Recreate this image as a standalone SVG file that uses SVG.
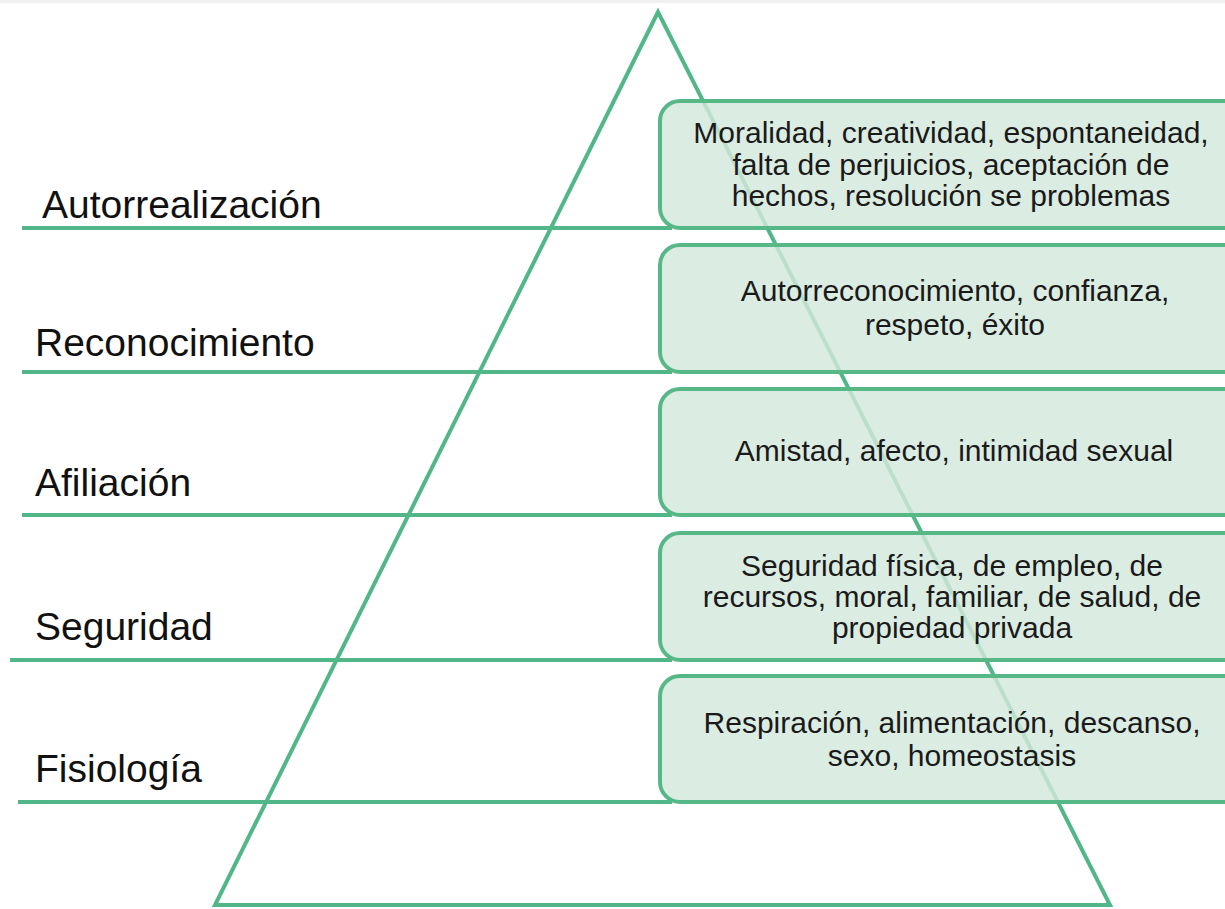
<svg xmlns="http://www.w3.org/2000/svg" width="1225" height="909" viewBox="0 0 1225 909">
<style>
.ln{stroke:#52b788;stroke-width:4;fill:none}
.bx{fill:#d3e8dc;fill-opacity:0.82;stroke:#56b886;stroke-width:4}
.lb{font-family:"Liberation Sans",Arial,sans-serif;font-size:39px;fill:#111}
.bt{font-family:"Liberation Sans",Arial,sans-serif;font-size:30px;fill:#1a1a1a;text-anchor:middle}
</style>
<rect width="1225" height="909" fill="#ffffff"/>
<rect width="1225" height="3" fill="#f0f0f0"/>
<g id="connectors">
<polygon class="ln" points="658,12 215,905 1110,905"/>
<line class="ln" x1="22" y1="228" x2="672" y2="228"/>
<line class="ln" x1="22" y1="372" x2="672" y2="372"/>
<line class="ln" x1="22" y1="515" x2="672" y2="515"/>
<line class="ln" x1="10" y1="660" x2="672" y2="660"/>
<line class="ln" x1="18" y1="802" x2="672" y2="802"/>
</g>
<g id="lbl-autorrealizacion"><text class="lb" x="42" y="218">Autorrealización</text></g>
<g id="lbl-reconocimiento"><text class="lb" x="35" y="356">Reconocimiento</text></g>
<g id="lbl-afiliacion"><text class="lb" x="35" y="496">Afiliación</text></g>
<g id="lbl-seguridad"><text class="lb" x="35" y="640">Seguridad</text></g>
<g id="lbl-fisiologia"><text class="lb" x="35" y="782">Fisiología</text></g>
<g id="box1"><rect class="bx" x="660" y="101" width="600" height="127" rx="20"/>
<text class="bt" x="951" y="143">Moralidad, creatividad, espontaneidad,</text>
<text class="bt" x="951" y="175">falta de perjuicios, aceptación de</text>
<text class="bt" x="951" y="206">hechos, resolución se problemas</text></g>
<g id="box2"><rect class="bx" x="660" y="245" width="600" height="127" rx="20"/>
<text class="bt" x="955" y="301">Autorreconocimiento, confianza,</text>
<text class="bt" x="955" y="335">respeto, éxito</text></g>
<g id="box3"><rect class="bx" x="660" y="389" width="600" height="126" rx="20"/>
<text class="bt" x="954" y="461">Amistad, afecto, intimidad sexual</text></g>
<g id="box4"><rect class="bx" x="660" y="533" width="600" height="127" rx="20"/>
<text class="bt" x="952" y="576">Seguridad física, de empleo, de</text>
<text class="bt" x="952" y="607">recursos, moral, familiar, de salud, de</text>
<text class="bt" x="952" y="638">propiedad privada</text></g>
<g id="box5"><rect class="bx" x="660" y="676" width="600" height="126" rx="20"/>
<text class="bt" x="952" y="733">Respiración, alimentación, descanso,</text>
<text class="bt" x="952" y="766">sexo, homeostasis</text></g>
</svg>
